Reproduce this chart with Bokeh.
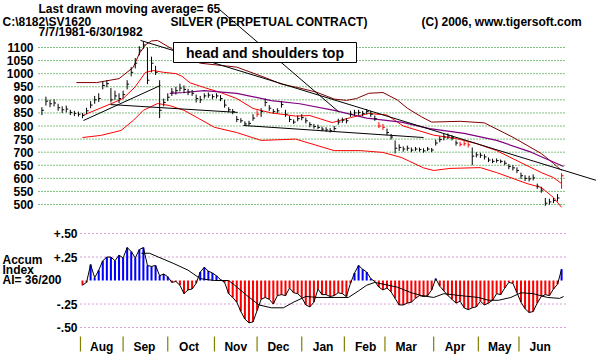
from bokeh.plotting import figure
from bokeh.models import Range1d
from bokeh.embed import file_html
from bokeh.resources import INLINE
from bokeh.core.properties import value

W, H = 596, 354

# ---------------- data ----------------
price_ticks = [1100, 1050, 1000, 950, 900, 850, 800, 750, 700, 650, 600, 550, 500]
ai_ticks = [0.50, 0.25, -0.25, -0.50]
ai_tick_labels = ["+.50", "+.25", "-.25", "-.50"]

months = ["Aug", "Sep", "Oct", "Nov", "Dec", "Jan", "Feb", "Mar", "Apr", "May", "Jun"]
month_start = [19, 40, 62, 85, 106, 128, 149, 169, 193, 215, 235]   # trading-day index

# price bars, one every 2 trading days starting 7/7/1981
bar_step = 2
close = [860, 895, 885, 888, 870, 862, 865, 852, 848, 845,
         840, 858, 880, 900, 905, 955, 962, 900, 915, 905,
         920, 960, 1005, 1040, 1090, 1110, 975, 1040, 1005, 860,
         890, 910, 930, 935, 945, 940, 930, 925, 905, 900,
         915, 918, 912, 915, 905, 880, 862, 855, 825, 820,
         808, 810, 830, 845, 855, 890, 868, 855, 858, 882,
         845, 825, 815, 828, 832, 820, 805, 798, 795, 788,
         785, 782, 790, 815, 822, 820, 845, 850, 852, 848,
         855, 845, 828, 800, 795, 775, 758, 715, 718, 712,
         715, 708, 712, 710, 705, 712, 708, 735, 748, 758,
         762, 755, 735, 730, 732, 728, 685, 690, 688, 682,
         670, 665, 668, 665, 658, 645, 640, 630, 610, 600,
         598, 602, 570, 555, 505, 510, 515, 525, 610]
high = [872, 912, 900, 902, 885, 875, 878, 862, 858, 855,
        850, 870, 895, 915, 925, 970, 975, 945, 935, 925,
        935, 975, 1025, 1060, 1105, 1122, 1100, 1065, 1030, 975,
        905, 925, 945, 950, 962, 955, 942, 938, 920, 915,
        925, 928, 922, 925, 918, 900, 872, 865, 838, 830,
        818, 820, 845, 860, 868, 905, 880, 865, 868, 895,
        862, 838, 825, 840, 845, 832, 815, 808, 805, 798,
        795, 792, 800, 828, 832, 830, 858, 862, 862, 858,
        865, 858, 840, 815, 808, 790, 770, 745, 730, 722,
        725, 718, 720, 718, 715, 720, 716, 748, 760, 770,
        772, 765, 745, 740, 742, 738, 718, 700, 698, 692,
        680, 675, 676, 672, 668, 655, 650, 642, 622, 612,
        610, 615, 580, 568, 525, 522, 525, 540, 620]
low = [842, 878, 872, 875, 858, 850, 852, 842, 838, 836,
       830, 845, 868, 885, 892, 940, 948, 890, 900, 888,
       905, 940, 990, 1020, 1070, 1095, 960, 1005, 995, 830,
       875, 895, 915, 920, 932, 925, 918, 915, 890, 888,
       905, 908, 902, 905, 895, 870, 852, 845, 815, 812,
       800, 802, 820, 835, 835, 875, 858, 848, 850, 870,
       835, 815, 808, 818, 822, 810, 795, 790, 788, 780,
       778, 775, 782, 805, 812, 810, 835, 840, 842, 838,
       845, 835, 820, 792, 785, 765, 748, 695, 705, 702,
       705, 700, 704, 702, 698, 704, 700, 725, 738, 745,
       750, 745, 725, 722, 724, 718, 650, 680, 678, 672,
       662, 658, 660, 658, 650, 635, 630, 620, 598, 590,
       588, 592, 560, 545, 495, 500, 505, 512, 560]
red_bar_days = [106, 166, 168, 206, 208, 210, 256]

# bands / moving averages (day, value)
maroon_days = [17, 27, 38, 45, 48, 51, 54, 57, 64, 68, 78, 96, 110, 118, 126, 135, 144, 150, 155, 161,
               168, 175, 180, 187, 192, 206, 218, 232, 246, 252, 256]
maroon_vals = [966, 966, 981, 1024, 1077, 1110, 1125, 1127, 1095, 1070, 1040, 1025, 985, 960, 947, 930,
               903, 898, 905, 925, 928, 900, 868, 835, 815, 818, 812, 757, 695, 657, 630]
red_mid_days = [20, 34, 40, 46, 51, 55, 60, 66, 69, 73, 80, 88, 96, 104, 113, 125, 132, 143, 152, 161,
                170, 178, 193, 204, 214, 224, 236, 246, 252, 256]
red_mid_vals = [840, 885, 905, 950, 1005, 1012, 1005, 1000, 990, 965, 947, 928, 905, 867, 850, 838, 840,
                813, 832, 848, 842, 800, 765, 752, 733, 706, 660, 622, 603, 580]
red_low_days = [20, 29, 39, 45, 50, 57, 63, 70, 77, 85, 96, 108, 125, 144, 157, 168, 177, 188, 193, 201,
                216, 224, 239, 246, 252, 256]
red_low_vals = [756, 764, 783, 821, 860, 886, 878, 860, 830, 795, 775, 745, 750, 706, 706, 699, 680, 640,
                630, 638, 641, 622, 580, 565, 527, 489]
ma65_days = [63, 70, 80, 96, 113, 127, 144, 160, 177, 191, 208, 224, 241, 257]
ma65_vals = [925, 928, 935, 925, 897, 885, 860, 830, 815, 790, 772, 745, 700, 645]

# hand drawn trend lines (day, price)
downtrend_days = [48.6, 273.2]
downtrend_vals = [1127, 592]
rising_days = [20.5, 58.4]
rising_vals = [821, 955]
neck1_days = [33.8, 96.4]
neck1_vals = [882, 852]
neck2_days = [99.3, 188.0]
neck2_vals = [802, 756]
pointer_days = [87.5, 146.1]
pointer_vals = [1245, 855]

# accumulation index, every 2 trading days from day 20
ai_start = 20
ai_vals = [-0.05, -0.02, 0.17, 0.03, 0.11, 0.21, 0.25, 0.25, 0.21, 0.27,
           0.24, 0.35, 0.31, 0.24, 0.33, 0.35, 0.16, 0.15, 0.16, 0.05,
           0.07, 0.04, -0.02, -0.01, -0.05, -0.14, -0.10, -0.09, -0.03, 0.09,
           0.14, 0.10, 0.08, 0.05, 0.01, -0.02, -0.14, -0.18, -0.23, -0.33,
           -0.41, -0.45, -0.44, -0.32, -0.20, -0.18, -0.20, -0.25, -0.16, -0.15,
           -0.16, -0.08, -0.13, -0.14, -0.18, -0.26, -0.28, -0.23, -0.09, -0.15,
           -0.15, -0.17, -0.16, -0.13, -0.14, -0.17, -0.03, 0.08, 0.16, 0.12,
           0.09, 0.02, -0.01, -0.07, -0.10, -0.08, -0.12, -0.19, -0.26, -0.26,
           -0.24, -0.23, -0.19, -0.16, -0.17, -0.16, -0.10, 0.02, -0.06, -0.11,
           -0.16, -0.20, -0.24, -0.22, -0.29, -0.31, -0.29, -0.28, -0.22, -0.26,
           -0.24, -0.21, -0.14, -0.15, -0.08, -0.02, -0.03, -0.13, -0.23, -0.30,
           -0.34, -0.33, -0.24, -0.17, -0.15, -0.16, -0.09, -0.04, 0.12]
ai_ma_days = [49, 53, 65, 72, 78, 85, 92, 95, 101, 107, 113, 119, 124, 130, 136, 144, 151, 156, 160, 164,
              175, 182, 187, 193, 198, 206, 215, 220, 225, 231, 236, 242, 249, 255, 257]
ai_ma_vals = [0.29, 0.29, 0.18, 0.11, 0.02, 0.0, 0.0, -0.05, -0.16, -0.26, -0.29, -0.29, -0.23, -0.17,
              -0.18, -0.18, -0.18, -0.11, -0.05, -0.02, -0.07, -0.13, -0.16, -0.18, -0.14, -0.16, -0.18,
              -0.21, -0.21, -0.18, -0.13, -0.14, -0.18, -0.19, -0.17]

# ---------------- figure ----------------
X0, X1 = -20.39, 273.2
P0, P1 = -73.1, 1279.6
A0, A1 = -0.787, 2.979


def sx(px):
    return X0 + px * (X1 - X0) / W


def sy_price(ypx):
    return P1 - ypx * (P1 - P0) / H


def sy_ai(ypx):
    return A1 - ypx * (A1 - A0) / H


p = figure(width=W, height=H, x_range=Range1d(X0, X1), y_range=Range1d(P0, P1),
           output_backend="svg", toolbar_location=None, min_border=0,
           x_axis_location=None, y_axis_location=None)
p.grid.visible = False
p.outline_line_color = None
p.background_fill_color = "white"
p.border_fill_color = "white"
p.extra_y_ranges = {"ai": Range1d(A0, A1)}

FONT = value("Liberation Sans")

# grids
n = len(price_ticks)
p.segment(x0=[sx(38)] * n, x1=[sx(566)] * n, y0=price_ticks, y1=price_ticks,
          line_color="#008000", line_dash="1 2", line_width=1)
m = len(ai_ticks)
p.segment(x0=[sx(80)] * m, x1=[sx(566)] * m, y0=ai_ticks, y1=ai_ticks,
          line_color="#b040b0", line_dash="1 3", line_width=1, y_range_name="ai")

# bands
p.line(maroon_days, maroon_vals, line_color="#800000", line_width=1)
p.line(red_mid_days, red_mid_vals, line_color="#ff0000", line_width=1)
p.line(red_low_days, red_low_vals, line_color="#ff0000", line_width=1)
p.line(ma65_days, ma65_vals, line_color="#800080", line_width=1.2)

# trend lines
for xs, ys in [(downtrend_days, downtrend_vals), (rising_days, rising_vals),
               (neck1_days, neck1_vals), (neck2_days, neck2_vals),
               (pointer_days, pointer_vals)]:
    p.line(xs, ys, line_color="black", line_width=1)

# price bars
days = [i * bar_step for i in range(len(close))]
bar_colors = ["#ff0000" if d in red_bar_days else "#000000" for d in days]
p.segment(x0=days, x1=days, y0=low, y1=high, line_color=bar_colors, line_width=1)
p.segment(x0=days, x1=[d + 1 for d in days], y0=close, y1=close, line_color=bar_colors, line_width=1)

# accumulation index
ai_days = [ai_start + i * 2 for i in range(len(ai_vals))]
ai_colors = ["#0000ff" if v > 0 else "#ff0000" for v in ai_vals]
p.vbar(x=ai_days, width=1.0, top=ai_vals, bottom=0, fill_color=ai_colors, line_color=None,
       y_range_name="ai")
p.line(ai_days, ai_vals, line_color="black", line_width=1, y_range_name="ai")
p.line(ai_ma_days, ai_ma_vals, line_color="black", line_width=1, y_range_name="ai")

# month ticks and labels
k = len(month_start)
p.segment(x0=month_start, x1=month_start, y0=[sy_ai(336)] * k, y1=[sy_ai(351)] * k,
          line_color="#808000", line_width=1.2, y_range_name="ai")
p.text(x=[ms + 10.5 for ms in month_start], y=[sy_ai(346)] * k, text=months,
       text_font=FONT, text_font_style="bold", text_font_size="12px",
       text_align="center", text_baseline="middle", text_color="black", y_range_name="ai")

# axis labels
p.text(x=[sx(33)] * n, y=price_ticks, text=[str(t) for t in price_ticks],
       text_font=FONT, text_font_style="bold", text_font_size="12px",
       text_align="right", text_baseline="middle", text_color="black")
p.text(x=[sx(77)] * m, y=ai_ticks, text=ai_tick_labels,
       text_font=FONT, text_font_style="bold", text_font_size="12px",
       text_align="right", text_baseline="middle", text_color="black", y_range_name="ai")

# annotation box
p.quad(left=[sx(173)], right=[sx(356)], top=[sy_price(42)], bottom=[sy_price(62)],
       fill_color="white", line_color="black", line_width=1)
p.text(x=[sx(264.5)], y=[sy_price(52.5)], text=["head and shoulders top"],
       text_font=FONT, text_font_style="bold", text_font_size="14px",
       text_align="center", text_baseline="middle", text_color="black")

# header texts
hdr = [("Last drawn moving average= 65", 38, 8),
       ("C:\\8182\\SV1620", 2, 21),
       ("7/7/1981-6/30/1982", 38, 31.5),
       ("SILVER (PERPETUAL CONTRACT)", 170, 21),
       ("(C) 2006, www.tigersoft.com", 421, 21)]
p.text(x=[sx(h[1]) for h in hdr], y=[sy_price(h[2]) for h in hdr], text=[h[0] for h in hdr],
       text_font=FONT, text_font_style="bold", text_font_size="12px",
       text_align="left", text_baseline="middle", text_color="black")

# accum index caption
cap = [("Accum", 259), ("Index", 269), ("AI= 36/200", 279)]
p.text(x=[sx(2)] * 3, y=[sy_ai(c[1]) for c in cap], text=[c[0] for c in cap],
       text_font=FONT, text_font_style="bold", text_font_size="12px",
       text_align="left", text_baseline="middle", text_color="black", y_range_name="ai")

open("out.html", "w").write(file_html(p, INLINE))
